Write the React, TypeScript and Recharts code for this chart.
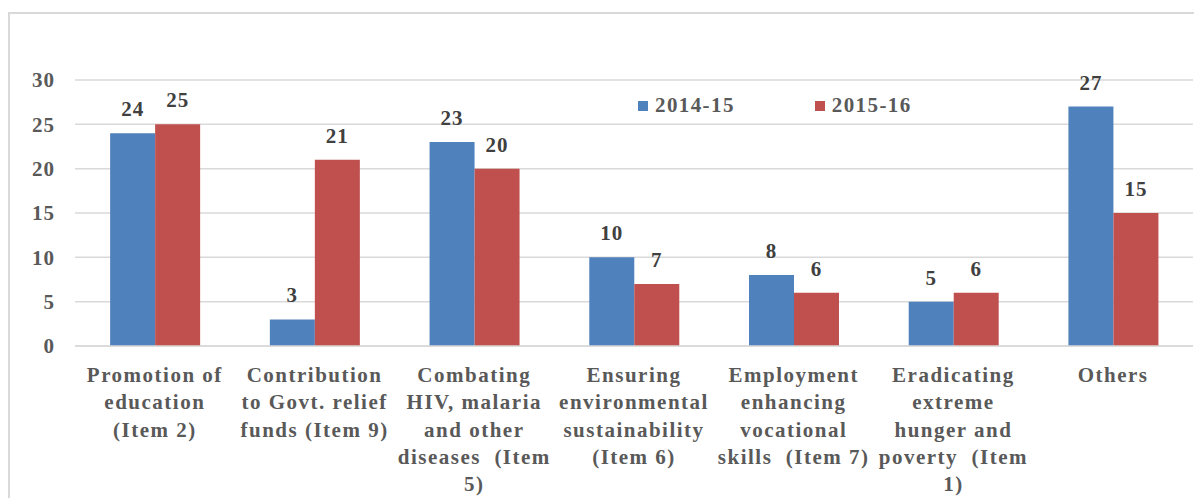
import React from "react";
import { BarChart, Bar, XAxis, YAxis, CartesianGrid, Legend, LabelList } from "recharts";

const categories = [
  "Promotion of education (Item 2)",
  "Contribution to Govt. relief funds (Item 9)",
  "Combating HIV, malaria and other diseases (Item 5)",
  "Ensuring environmental sustainability (Item 6)",
  "Employment enhancing vocational skills (Item 7)",
  "Eradicating extreme hunger and poverty (Item 1)",
  "Others",
];

// how each category label wraps under the axis
const categoryLines = [
  ["Promotion of", "education", "(Item 2)"],
  ["Contribution", "to Govt. relief", "funds (Item 9)"],
  ["Combating", "HIV, malaria", "and other", "diseases  (Item", "5)"],
  ["Ensuring", "environmental", "sustainability", "(Item 6)"],
  ["Employment", "enhancing", "vocational", "skills  (Item 7)"],
  ["Eradicating", "extreme", "hunger and", "poverty  (Item", "1)"],
  ["Others"],
];

const values2014 = [24, 3, 23, 10, 8, 5, 27];
const values2015 = [25, 21, 20, 7, 6, 6, 15];
const yTicks = [0, 5, 10, 15, 20, 25, 30];

const data = categories.map((c, i) => ({
  name: c,
  idx: i,
  y2014: values2014[i],
  y2015: values2015[i],
}));

const FONT = '"Liberation Serif", "Times New Roman", serif';

function CategoryTick(props: any) {
  const { x, y, index } = props;
  const lines = categoryLines[index] || [];
  return (
    <text
      x={x}
      y={y}
      textAnchor="middle"
      fill="#595959"
      fontFamily={FONT}
      fontWeight="bold"
      fontSize={21}
      letterSpacing={1.5}
    >
      {lines.map((l, i) => (
        <tspan key={i} x={x} dy={i === 0 ? 28 : 27.3} style={{ whiteSpace: "pre" }}>
          {l}
        </tspan>
      ))}
    </text>
  );
}

function LegendBox() {
  const items = [
    { label: "2014-15", color: "#4f81bd" },
    { label: "2015-16", color: "#c0504d" },
  ];
  return (
    <div style={{ display: "flex", alignItems: "center" }}>
      {items.map((it, i) => (
        <div key={it.label} style={{ display: "flex", alignItems: "center", marginRight: i === 0 ? 80 : 0 }}>
          <span style={{ width: 10, height: 10, background: it.color, display: "inline-block", marginRight: 7 }} />
          <span
            style={{
              fontFamily: FONT,
              fontWeight: "bold",
              fontSize: 21,
              letterSpacing: 1.4,
              color: "#595959",
            }}
          >
            {it.label}
          </span>
        </div>
      ))}
    </div>
  );
}

export default function App() {
  return (
    <div
      style={{
        position: "relative",
        top: 4,
        width: 1194,
        height: 488,
        borderTop: "2px solid #d9d9d9",
        borderLeft: "2px solid #d9d9d9",
        background: "#fff",
      }}
    >
      <BarChart
        width={1192}
        height={486}
        data={data}
        margin={{ top: 66, right: 9, bottom: 14, left: 15 }}
        barGap={0}
        barCategoryGap="22%"
      >
        <CartesianGrid vertical={false} stroke="#d9d9d9" strokeWidth={1.5} />
        <XAxis
          dataKey="name"
          tick={<CategoryTick />}
          tickLine={false}
          axisLine={{ stroke: "#d9d9d9", strokeWidth: 1.5 }}
          interval={0}
          height={140}
        />
        <YAxis
          domain={[0, 30]}
          ticks={yTicks}
          width={50}
          tickLine={false}
          axisLine={false}
          tickMargin={14}
          tick={{ fill: "#595959", fontFamily: FONT, fontWeight: "bold", fontSize: 21, letterSpacing: 1 }}
        />
        <Legend
          verticalAlign="middle"
          align="center"
          content={<LegendBox />}
          wrapperStyle={{ position: "absolute", top: 79, left: 628, width: 320 }}
        />
        <Bar dataKey="y2014" name="2014-15" fill="#4f81bd" isAnimationActive={false}>
          <LabelList
            dataKey="y2014"
            position="top"
            offset={17}
            fill="#404040"
            fontFamily={FONT}
            fontWeight="bold"
            fontSize={21}
            letterSpacing={1}
          />
        </Bar>
        <Bar dataKey="y2015" name="2015-16" fill="#c0504d" isAnimationActive={false}>
          <LabelList
            dataKey="y2015"
            position="top"
            offset={17}
            fill="#404040"
            fontFamily={FONT}
            fontWeight="bold"
            fontSize={21}
            letterSpacing={1}
          />
        </Bar>
      </BarChart>
    </div>
  );
}
